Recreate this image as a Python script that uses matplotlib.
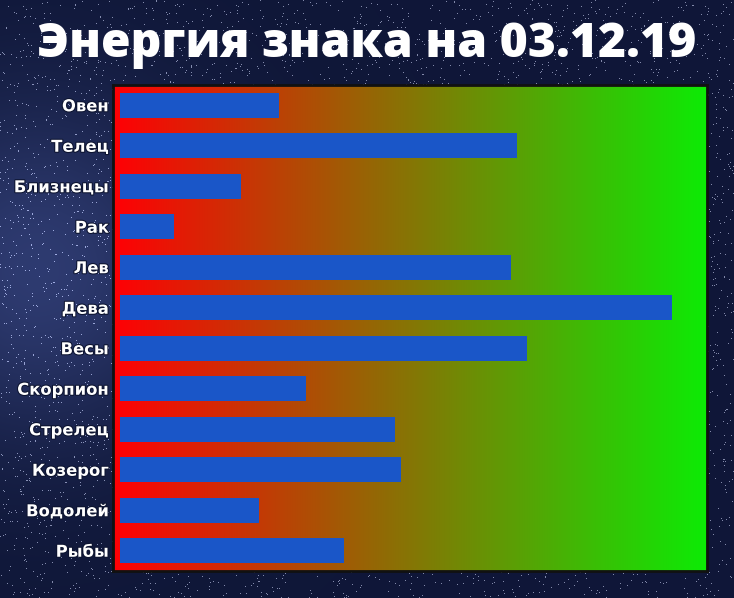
import matplotlib.pyplot as plt
import matplotlib.patheffects as pe
import numpy as np

signs = ["Овен", "Телец", "Близнецы", "Рак", "Лев", "Дева",
         "Весы", "Скорпион", "Стрелец", "Козерог", "Водолей", "Рыбы"]
energy = [27.3, 68.3, 20.9, 9.3, 67.2, 94.9, 70.0, 32.0, 47.3, 48.3, 24.0, 38.6]
title = "Энергия знака на 03.12.19"


def main() -> None:
    fig = plt.figure(figsize=(7.34, 5.98), dpi=100)

    # starry night background
    bg = fig.add_axes([0, 0, 1, 1])
    yy, xx = np.mgrid[0:598, 0:734] / np.array([598.0, 734.0])[:, None, None]
    base = np.zeros((598, 734, 3))
    glow = np.exp(-((xx - 0.05) ** 2 / 0.05 + (yy - 0.45) ** 2 / 0.08))
    base[..., 0] = 0.06 + 0.12 * glow
    base[..., 1] = 0.09 + 0.14 * glow
    base[..., 2] = 0.22 + 0.22 * glow
    rng = np.random.default_rng(3)
    stars = rng.random((598, 734)) > 0.985
    base[stars] = np.clip(base[stars] + 0.45, 0, 1)
    bg.imshow(base, aspect="auto", extent=[0, 1, 0, 1])
    bg.axis("off")

    ax = fig.add_axes([113 / 734, 1 - 571 / 598, 594 / 734, 486 / 598])
    grad = np.linspace(0, 1, 256)[None, :]
    cols = np.zeros((1, 256, 3))
    cols[..., 0] = 1.0 - grad * 0.95
    cols[..., 1] = grad * 0.92
    cols[..., 2] = 0.02
    y = np.arange(len(signs))
    ax.imshow(cols, aspect="auto", extent=[-1.2, 101, -0.5, len(signs) - 0.5],
              zorder=0)
    ax.barh(y, energy, height=0.62, color="#1a56c8", zorder=2)
    ax.set_xlim(-1.2, 101)
    ax.set_ylim(len(signs) - 0.5, -0.5)
    ax.set_xticks([])
    ax.set_yticks(y)
    ax.set_yticklabels(signs, family="DejaVu Sans", fontweight="bold",
                       fontsize=11.8, color="white")
    for lbl in ax.get_yticklabels():
        lbl.set_path_effects([pe.withStroke(linewidth=1.5, foreground="#0d1430")])
    ax.tick_params(axis="y", length=0, pad=3)
    for s in ax.spines.values():
        s.set_color("#111111")
        s.set_linewidth(2)

    fig.text(0.5, 1 - 45 / 598, title, ha="center", va="center", color="white",
             fontsize=34.6, fontweight="heavy", family="Open Sans")

    fig.savefig("out.png", dpi=100)


if __name__ == "__main__":
    main()
